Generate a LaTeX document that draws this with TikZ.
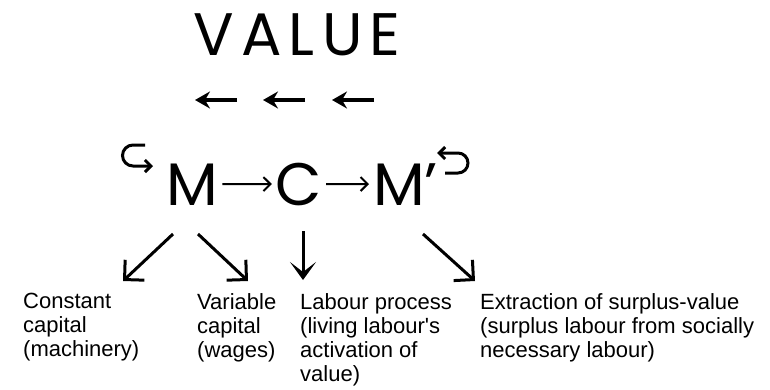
\documentclass[tikz,border=0pt]{standalone}
\usepackage{fontspec}
\setmainfont{Liberation Sans}
\newfontfamily\geofont{Poppins}
\usetikzlibrary{arrows.meta}

\tikzstyle{big word}=[inner sep=0pt,
    font=\geofont\fontsize{60}{60}\selectfont\addfontfeature{LetterSpace=12}]
\tikzstyle{circuit letter}=[inner sep=0pt,outer sep=4pt,anchor=base,
    font=\geofont\fontsize{60}{60}\selectfont]
\tikzstyle{caption text}=[inner sep=0pt,anchor=north west,align=left,
    font=\fontsize{22}{24}\selectfont]
\tikzstyle{flow}=[line width=2pt,-{Straight Barb[length=7pt,width=14pt]}]
\tikzstyle{return}=[line width=4pt,-{Stealth[length=15pt,width=17pt,inset=5pt]}]
\tikzstyle{loop}=[line width=3pt,-{Straight Barb[length=6pt,width=12pt]}]
\tikzstyle{branch}=[line width=3pt,-{Straight Barb[length=14pt,width=28pt]}]
\tikzstyle{drop}=[line width=3pt,-{Stealth[length=18pt,width=26pt,inset=10pt]}]
\newcommand{\outcome}[3]{
    \node[caption text] at (#1) (#2) {#3};
}

\begin{document}
\begin{tikzpicture}[x=1pt,y=-1pt]
    \useasboundingbox (0,0) rectangle (770,389);
    \node[big word] at (297,35) (value) {VALUE};
    %
    \foreach \x in {195,263,332}
        \draw[return] (\x+42,100) -- (\x,100);
    %
    \node[circuit letter] at (192.5,205) (M) {M};
    \node[circuit letter] at (299,205) (C) {C};
    \node[circuit letter,anchor=base west] at (369,205) (Mp) {M’};
    \draw[flow] (M) -- (C);
    \draw[flow] (C) -- (Mp);
    %
    \draw[loop] (145,145) -- (133,145)
        arc[start angle=270,end angle=90,radius=10.5] -- (153,166);
    \draw[loop] (445,173) -- (458,173)
        arc[start angle=90,end angle=-90,radius=10] -- (437,153);
    %
    \outcome{23,293}{constant}{Constant\\capital\\(machinery)}
    \outcome{197,293}{variable}{Variable\\capital\\(wages)}
    \outcome{300,293}{labour}{Labour process\\(living labour\textquotesingle s\\activation of\\value)}
    \outcome{480,293}{extraction}{Extraction of surplus-value\\(surplus labour from socially\\necessary labour)}
    %
    \draw[branch] ([shift={(-19.5,25)}]M.south) -- ([shift={(100,-12)}]constant.north west);
    \draw[branch] ([shift={(5.5,25)}]M.south) -- ([shift={(51,-12)}]variable.north west);
    \draw[drop] ([shift={(4,22)}]C.south) -- ([shift={(3,-13)}]labour.north west);
    \draw[branch] ([shift={(54,25)}]Mp.south west) -- ([shift={(-5,-12)}]extraction.north west);
\end{tikzpicture}
\end{document}
